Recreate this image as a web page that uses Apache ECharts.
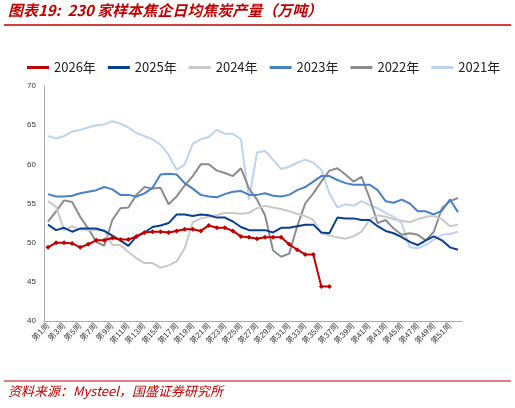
<!DOCTYPE html>
<html><head><meta charset="utf-8">
<script src="https://cdn.jsdelivr.net/npm/echarts@6/dist/echarts.min.js"></script>
<style>html,body{margin:0;padding:0;background:#fff}#c{width:515px;height:408px}</style>
</head><body><div id="c"></div>
<script>
const weeks = Array.from({length:52},(_,i)=>'第'+(i+1)+'周');
const s2026 = [49.4,50.0,50.0,49.9,49.4,49.8,50.3,50.3,50.6,50.4,50.4,50.8,51.3,51.4,51.4,51.3,51.5,51.7,51.7,51.5,52.2,51.9,51.9,51.5,50.8,50.7,50.5,50.7,50.7,50.7,49.8,49.1,48.5,48.5,44.4,44.4];
const s2025 = [52.3,51.6,51.9,51.4,51.8,51.8,51.8,51.5,50.9,50.3,49.6,50.8,51.3,52.0,52.2,52.5,53.6,53.6,53.4,53.6,53.5,53.2,53.2,52.7,52.0,51.6,51.6,51.6,51.3,51.9,51.9,52.1,52.3,52.3,51.3,51.2,53.2,53.1,53.1,52.9,52.9,52.1,51.5,51.2,50.7,50.1,49.7,50.3,50.8,50.3,49.4,49.1];
const s2024 = [55.3,54.6,51.6,52.1,51.7,51.6,51.6,51.6,49.7,49.7,48.8,48.0,47.4,47.4,46.8,47.1,47.6,49.3,52.6,53.1,53.3,53.5,53.8,53.8,53.7,53.8,54.4,54.7,54.5,54.3,54.0,53.7,53.4,52.9,51.2,50.9,50.7,50.5,50.8,51.4,52.9,53.5,53.3,53.0,52.8,52.6,53.0,53.3,53.4,53.0,52.1,52.3];
const s2023 = [56.2,55.9,55.9,56.0,56.3,56.5,56.7,57.1,56.8,56.1,56.1,55.9,56.3,57.0,58.7,58.8,58.7,57.6,56.9,56.1,55.9,55.8,56.2,56.5,56.6,56.1,56.1,56.3,56.0,55.9,56.1,56.7,57.1,57.8,58.5,58.5,58.0,57.6,57.4,57.4,57.4,56.7,55.3,55.1,55.5,55.0,54.0,54.0,53.6,54.1,55.5,53.9];
const s2022 = [52.7,54.0,55.4,55.2,53.3,51.8,50.1,49.6,52.9,54.4,54.5,56.1,57.1,56.9,57.0,54.9,55.9,57.3,58.5,60.0,60.0,59.2,58.9,58.5,59.5,56.9,55.5,53.5,49.0,48.2,48.6,52.1,55.0,56.3,57.8,59.2,59.5,58.7,57.8,58.4,55.7,52.5,52.9,51.8,51.0,51.2,51.0,50.3,51.4,54.4,55.3,55.7];
const s2021 = [63.6,63.3,63.6,64.2,64.4,64.7,65.0,65.1,65.5,65.2,64.7,64.0,63.6,63.2,62.5,61.2,59.3,60.0,62.6,63.2,63.5,64.4,63.9,63.9,63.2,55.5,61.5,61.7,60.6,59.4,59.7,60.2,60.6,60.2,59.3,56.3,54.5,54.9,54.7,55.3,54.8,54.4,53.8,53.3,52.5,49.4,49.3,49.7,50.4,51.0,51.1,51.4];
const names = ['2026年','2025年','2024年','2023年','2022年','2021年'];
const colors = ['#c00000','#0b3f91','#c9c9c9','#4a80c8','#8c8c8c','#bdd3ef'];
const data = [s2026,s2025,s2024,s2023,s2022,s2021];
const ch = echarts.init(document.getElementById('c'));
ch.setOption({
  animation:false,
  graphic:[
    {type:'text',left:8,top:3,style:{text:'图表19:  230 家样本焦企日均焦炭产量（万吨）',fill:'#c00000',font:'italic bold 15px "Noto Sans CJK SC"'}},
    {type:'line',shape:{x1:4,y1:25,x2:511,y2:25},style:{stroke:'#c00000',lineWidth:1.5}},
    {type:'line',shape:{x1:4,y1:381,x2:511,y2:381},style:{stroke:'#c00000',lineWidth:1}},
    {type:'text',left:8,top:385,style:{text:'资料来源：Mysteel，国盛证券研究所',fill:'#c00000',font:'italic 13px "Noto Sans CJK SC"'}}
  ],
  legend:{top:56,left:22,itemGap:12,itemWidth:22,itemHeight:3,textStyle:{fontSize:13,color:'#222',fontFamily:'Noto Sans CJK SC'},
    data:names.map((n,i)=>({name:n,icon:'rect',itemStyle:{color:colors[i]}}))},
  grid:{left:44,right:53,top:86,bottom:87},
  xAxis:{type:'category',data:weeks,boundaryGap:true,
    axisLine:{lineStyle:{color:'#aaa'}},axisTick:{alignWithLabel:true,interval:0,lineStyle:{color:'#aaa'}},
    axisLabel:{interval:1,rotate:45,fontSize:8,color:'#333',margin:4}},
  yAxis:{type:'value',min:40,max:70,interval:5,splitLine:{show:false},
    axisLine:{show:true,lineStyle:{color:'#aaa'}},axisTick:{show:false},axisLabel:{fontSize:8,color:'#333'}},
  series:data.map((d,i)=>({name:names[i],type:'line',data:d,z:10-i,
    lineStyle:{color:colors[i],width:2},itemStyle:{color:colors[i]},
    symbol:i===0?'diamond':'none',symbolSize:5,showSymbol:i===0}))
});
</script></body></html>
